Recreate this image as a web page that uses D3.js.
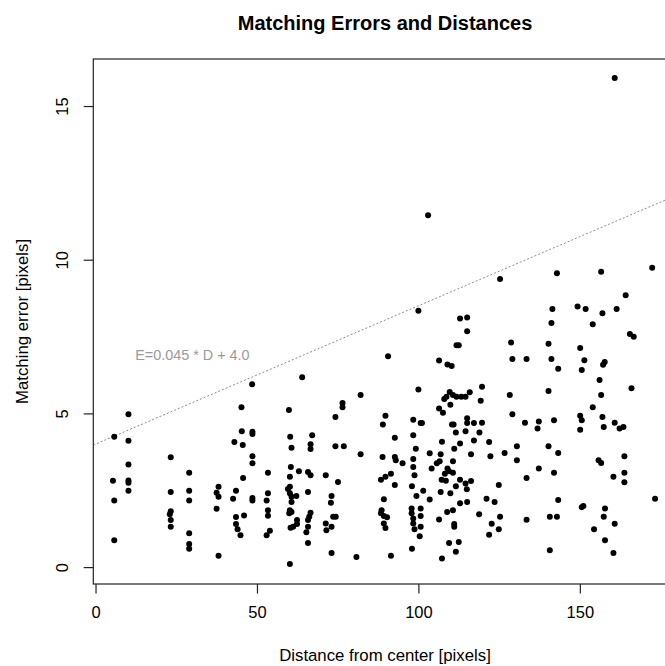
<!DOCTYPE html>
<html>
<head>
<meta charset="utf-8">
<script src="https://cdn.jsdelivr.net/npm/d3@7"></script>
<style>
  html, body { margin: 0; padding: 0; background: #fff; }
  svg { display: block; font-family: "Liberation Sans", Arial, sans-serif; }
</style>
</head>
<body>
<script>
// values
const distance = [
  48.5, 10.2, 5.8, 10.2, 45.2, 45.3, 48.6, 48.6, 43.0, 45.6,
  23.3, 10.2, 5.4, 10.2, 10.2, 10.2, 29.0, 48.6, 48.6, 45.7,
  53.4, 5.8, 23.3, 29.0, 29.0, 38.1, 37.5, 38.1, 42.6, 43.5,
  48.6, 48.6, 53.4, 53.0, 53.4, 53.4, 37.5, 23.3, 23.0, 23.3,
  23.3, 43.5, 43.5, 44.0, 44.9, 46.0, 54.0, 53.0, 29.0, 29.0,
  29.0, 5.8, 38.1,
  100.0, 112.9, 115.1, 115.1, 111.8, 112.5, 90.6, 106.4, 109.0, 110.3,
  64.0, 100.0, 82.1, 109.7, 108.0, 108.7, 110.7, 111.8, 113.3, 114.6,
  115.9, 76.5, 76.5, 106.4, 107.6, 109.9, 59.9, 74.3, 89.8, 89.0,
  98.4, 100.7, 101.1, 110.4, 110.9, 115.1, 115.1, 117.2, 111.6, 114.6,
  60.3, 67.1, 66.6, 66.6, 60.7, 74.3, 76.9, 92.7, 98.4, 107.3,
  112.9, 117.2, 99.2, 111.1, 82.1, 88.9, 92.7, 93.0, 95.1, 98.4,
  103.5, 106.9, 116.3, 105.7, 106.6, 110.7, 104.1, 98.4, 109.0, 109.5,
  108.2, 110.7, 60.5, 63.0, 65.8, 66.6, 60.2, 71.3, 91.5, 89.8,
  88.4, 98.8, 75.1, 107.2, 108.5, 112.9, 116.3, 92.7, 98.0, 60.2,
  59.6, 60.2, 60.7, 111.6, 114.6, 115.0, 65.8, 62.2, 73.1, 99.4,
  101.5, 106.9, 109.9, 103.5, 89.3, 72.9, 60.7, 112.9, 115.1, 118.8,
  60.2, 60.7, 60.0, 66.6, 66.2, 65.8, 88.6, 88.4, 89.3, 90.3,
  97.9, 97.9, 98.4, 100.7, 100.7, 108.9, 110.7, 73.6, 74.4, 62.4,
  62.4, 60.4, 61.2, 65.8, 71.3, 71.5, 73.1, 89.3, 89.8, 98.4,
  100.7, 106.4, 111.1, 111.1, 65.3, 98.8, 100.4, 65.8, 109.5, 112.5,
  111.6, 98.0, 73.1, 80.8, 91.5, 107.3, 60.2,
  125.3, 142.9, 156.6, 172.4, 164.2, 141.5, 141.2, 149.3, 151.8, 157.0,
  161.4, 154.0, 165.5, 166.7, 128.7, 140.3, 150.1, 129.1, 133.5, 141.2,
  151.4, 143.3, 150.6, 157.7, 157.2, 156.1, 166.0, 119.7, 119.3, 128.3,
  140.3, 156.6, 154.0, 129.1, 150.1, 150.6, 150.1, 142.0, 119.7, 133.0,
  137.3, 136.9, 157.0, 157.4, 160.8, 162.3, 163.5, 118.9, 121.9, 130.5,
  140.3, 122.3, 126.7, 130.5, 143.3, 155.8, 156.6, 163.8, 137.3, 133.5,
  142.0, 160.4, 163.8, 163.8, 124.9, 121.1, 123.6, 122.7, 121.9, 125.3,
  124.9, 133.5, 143.3, 140.7, 142.9, 150.6, 151.1, 157.8, 157.4, 160.8,
  154.4, 157.8, 160.4, 140.7, 173.3,
  103.0, 160.8
];
const error = [
  5.95, 4.97, 4.24, 4.11, 5.20, 4.42, 4.40, 4.33, 4.07, 3.97,
  3.57, 3.34, 2.81, 2.82, 2.74, 2.48, 3.07, 3.61, 3.38, 2.90,
  3.07, 2.17, 2.44, 2.48, 2.17, 2.61, 2.42, 2.29, 2.22, 2.48,
  2.25, 2.17, 2.40, 2.17, 1.85, 1.67, 1.90, 1.82, 1.72, 1.53,
  1.31, 1.63, 1.40, 1.23, 1.04, 1.68, 1.18, 1.04, 1.10, 0.75,
  0.60, 0.87, 0.37,
  8.34, 8.09, 8.12, 7.67, 7.22, 7.22, 6.86, 6.72, 6.59, 6.54,
  6.18, 5.78, 5.60, 5.70, 5.47, 5.54, 5.60, 5.54, 5.54, 5.54,
  5.69, 5.34, 5.20, 5.16, 5.02, 5.28, 5.11, 4.88, 4.92, 4.64,
  4.79, 4.69, 4.69, 4.64, 4.64, 4.84, 4.69, 4.69, 4.38, 4.42,
  4.24, 4.29, 4.00, 3.84, 3.88, 3.93, 3.93, 4.21, 4.29, 4.08,
  4.02, 4.12, 3.85, 3.85, 3.67, 3.58, 3.58, 3.48, 3.38, 3.52,
  3.70, 3.67, 3.67, 3.38, 3.44, 3.44, 3.21, 3.26, 3.21, 3.12,
  3.04, 3.07, 3.26, 3.12, 3.09, 2.99, 2.94, 2.99, 3.04, 2.94,
  2.84, 2.99, 2.77, 2.84, 2.81, 2.84, 2.80, 2.67, 2.63, 2.61,
  2.54, 2.40, 2.29, 2.63, 2.72, 2.53, 2.44, 2.31, 2.31, 2.31,
  2.48, 2.44, 2.40, 2.20, 2.21, 2.09, 2.12, 2.08, 2.12, 1.72,
  1.85, 1.79, 1.75, 1.77, 1.64, 1.53, 1.85, 1.75, 1.66, 1.62,
  1.91, 1.75, 1.58, 1.91, 1.66, 1.79, 1.85, 1.64, 1.64, 1.53,
  1.40, 1.28, 1.31, 1.31, 1.42, 1.20, 1.31, 1.42, 1.27, 1.42,
  1.31, 1.55, 1.40, 1.31, 1.13, 1.23, 1.00, 0.78, 0.78, 0.82,
  0.50, 0.60, 0.46, 0.33, 0.37, 0.28, 0.10,
  9.37, 9.56, 9.61, 9.74, 8.84, 8.40, 7.94, 8.48, 8.40, 8.26,
  8.40, 7.90, 7.58, 7.49, 7.31, 7.27, 7.13, 6.77, 6.77, 6.77,
  6.73, 6.45, 6.41, 6.67, 6.58, 6.09, 5.82, 5.87, 5.41, 5.60,
  5.73, 5.60, 5.20, 4.97, 4.92, 4.78, 4.47, 4.78, 4.70, 4.70,
  4.74, 4.51, 4.88, 4.56, 4.70, 4.51, 4.56, 4.38, 4.07, 3.93,
  3.93, 3.61, 3.71, 3.48, 3.71, 3.48, 3.39, 3.61, 3.21, 2.90,
  3.07, 2.94, 3.07, 2.76, 2.67, 2.22, 2.12, 1.41, 1.05, 1.64,
  1.23, 1.54, 2.18, 1.64, 1.64, 1.95, 1.99, 1.91, 1.64, 1.41,
  1.23, 0.87, 0.46, 0.55, 2.22,
  11.45, 15.91
];
const xTicks = [0, 50, 100, 150];
const yTicks = [0, 5, 10, 15];
const fitSlope = 0.045;
const fitIntercept = 4.0;
const fitLabel = "E=0.045 * D + 4.0";
const fitLabelAt = [30, 6.9];

const title = "Matching Errors and Distances";
const xTitle = "Distance from center [pixels]";
const yTitle = "Matching error [pixels]";

const WIDTH = 665, HEIGHT = 666;
// plot region (right edge lies past the picture, as in the reference)
const PLOT = { left: 93.3, right: 676.7, top: 59, bottom: 584 };
const XLIM = [-0.69, 180];
const YLIM = [-0.55, 16.53];
const TICK = 9.6;

const x = d3.scaleLinear().domain(XLIM).range([PLOT.left, PLOT.right]);
const y = d3.scaleLinear().domain(YLIM).range([PLOT.bottom, PLOT.top]);

const svg = d3.select("body").append("svg")
  .attr("width", WIDTH)
  .attr("height", HEIGHT)
  .attr("viewBox", [0, 0, WIDTH, HEIGHT]);

svg.append("defs").append("clipPath").attr("id", "plotclip")
  .append("rect")
  .attr("x", PLOT.left).attr("y", PLOT.top)
  .attr("width", PLOT.right - PLOT.left).attr("height", PLOT.bottom - PLOT.top);

// title
svg.append("text")
  .attr("x", (PLOT.left + PLOT.right) / 2)
  .attr("y", 30)
  .attr("text-anchor", "middle")
  .attr("font-size", 20)
  .attr("font-weight", "bold")
  .attr("fill", "#000")
  .text(title);

// fit line
svg.append("line")
  .attr("clip-path", "url(#plotclip)")
  .attr("x1", x(XLIM[0])).attr("y1", y(fitIntercept + fitSlope * XLIM[0]))
  .attr("x2", x(XLIM[1])).attr("y2", y(fitIntercept + fitSlope * XLIM[1]))
  .attr("stroke", "#8c8c8c")
  .attr("stroke-width", 1)
  .attr("stroke-dasharray", "2,2");

svg.append("text")
  .attr("x", x(fitLabelAt[0]))
  .attr("y", y(fitLabelAt[1]))
  .attr("dy", "0.35em")
  .attr("text-anchor", "middle")
  .attr("font-size", 14.4)
  .attr("fill", "#9a9a9a")
  .text(fitLabel);

// points
svg.append("g")
  .attr("fill", "#000")
  .selectAll("circle")
  .data(distance.map((d, i) => [d, error[i]]))
  .join("circle")
  .attr("cx", d => x(d[0]))
  .attr("cy", d => y(d[1]))
  .attr("r", 3);

// box (left, top, bottom; right side falls outside)
svg.append("rect")
  .attr("x", PLOT.left).attr("y", PLOT.top)
  .attr("width", PLOT.right - PLOT.left).attr("height", PLOT.bottom - PLOT.top)
  .attr("fill", "none")
  .attr("stroke", "#222")
  .attr("stroke-width", 1.2);

// x axis
const gx = svg.append("g")
  .attr("transform", `translate(0, ${PLOT.bottom})`)
  .call(d3.axisBottom(x).tickValues(xTicks).tickSize(TICK).tickPadding(13));
gx.select(".domain").remove();
gx.selectAll(".tick line").attr("stroke", "#222").attr("stroke-width", 1.2);
gx.selectAll(".tick text")
  .attr("font-size", 16.5)
  .attr("font-family", "Liberation Sans, Arial, sans-serif")
  .attr("fill", "#000");

// y axis, labels parallel to the axis
const gy = svg.append("g")
  .attr("transform", `translate(${PLOT.left}, 0)`)
  .call(d3.axisLeft(y).tickValues(yTicks).tickSize(TICK));
gy.select(".domain").remove();
gy.selectAll(".tick line").attr("stroke", "#222").attr("stroke-width", 1.2);
gy.selectAll(".tick text")
  .attr("transform", "rotate(-90)")
  .attr("x", 0)
  .attr("y", -31)
  .attr("dy", "0.35em")
  .attr("text-anchor", "middle")
  .attr("font-size", 16.5)
  .attr("font-family", "Liberation Sans, Arial, sans-serif")
  .attr("fill", "#000");

// axis titles
svg.append("text")
  .attr("x", (PLOT.left + PLOT.right) / 2)
  .attr("y", 655)
  .attr("dy", "0.35em")
  .attr("text-anchor", "middle")
  .attr("font-size", 16.8)
  .attr("fill", "#000")
  .text(xTitle);

svg.append("text")
  .attr("transform", `translate(22, ${(PLOT.top + PLOT.bottom) / 2}) rotate(-90)`)
  .attr("dy", "0.35em")
  .attr("text-anchor", "middle")
  .attr("font-size", 16.8)
  .attr("fill", "#000")
  .text(yTitle);
</script>
</body>
</html>
